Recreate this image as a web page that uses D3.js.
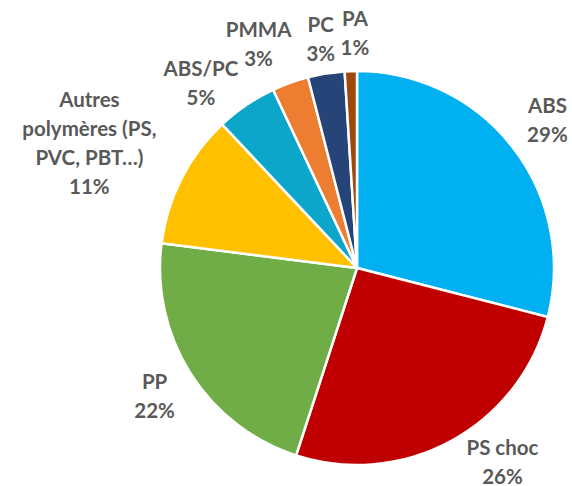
<!DOCTYPE html>
<html>
<head>
<meta charset="utf-8">
<script src="https://cdn.jsdelivr.net/npm/d3@7"></script>
<style>
  body { margin: 0; background: #fff; }
</style>
</head>
<body>
<div id="chart"></div>
<script>
// data
var labels = [["ABS"], ["PS choc"], ["PP"], ["Autres", "polymères (PS,", "PVC, PBT…)"], ["ABS/PC"], ["PMMA"], ["PC"], ["PA"]];
var values = [29, 26, 22, 11, 5, 3, 3, 1];
var colors = ["#00B0F0", "#C00000", "#70AD47", "#FFC000", "#0BA6C9", "#ED7D31", "#264478", "#9E480E"];

var width = 572, height = 486;
var cx = 357, cy = 268, radius = 197;

// small tweaks (angle in degrees, radius in px) mimicking Excel's best-fit label placement
var labelNudge = {
    "PS choc": { a: -8, r: -9 },
    "ABS/PC": { a: -6, r: -12 },
    "PMMA": { a: -4, r: -3 },
    "PC": { a: 0, r: -6 },
    "PA": { a: 1.3, r: -1 },
    "Autres": { a: -2, r: 3 }
};

var svg = d3.select("#chart").append("svg")
    .attr("width", width)
    .attr("height", height);

var g = svg.append("g")
    .attr("transform", "translate(" + cx + "," + cy + ")");

var pie = d3.pie().sort(null).value(function(d) { return d; });
var arcs = pie(values);

var arc = d3.arc().innerRadius(0).outerRadius(radius);

g.selectAll("path")
    .data(arcs)
    .enter()
    .append("path")
    .attr("d", arc)
    .attr("fill", function(d, i) { return colors[i]; })
    .attr("stroke", "#fff")
    .attr("stroke-width", 2.5)
    .attr("stroke-linejoin", "round");

// labels: box placed just outside the rim along the slice's mid angle
var lineH = 29, gap = 10;
arcs.forEach(function(d, i) {
    var lines = labels[i].concat([values[i] + "%"]);
    var nudge = labelNudge[labels[i][0]] || { a: 0, r: 0 };
    var mid = (d.startAngle + d.endAngle) / 2 + nudge.a * Math.PI / 180;
    var dx = Math.sin(mid), dy = -Math.cos(mid);

    var lg = g.append("g");
    var t = lg.append("text")
        .attr("text-anchor", "middle")
        .style("font-family", "Lato, 'Open Sans', sans-serif")
        .style("font-weight", "bold")
        .style("font-size", "20.5px")
        .style("fill", "#595959");
    lines.forEach(function(s, k) {
        t.append("tspan")
            .attr("x", 0)
            .attr("y", (k - (lines.length - 1) / 2) * lineH)
            .attr("dy", "0.35em")
            .text(s);
    });
    var bb = t.node().getBBox();
    var w = bb.width, h = lines.length * lineH;
    var r = radius + gap + nudge.r + Math.abs(dx) * w / 2 + Math.abs(dy) * h / 2;
    lg.attr("transform", "translate(" + (dx * r) + "," + (dy * r) + ")");
});
</script>
</body>
</html>
